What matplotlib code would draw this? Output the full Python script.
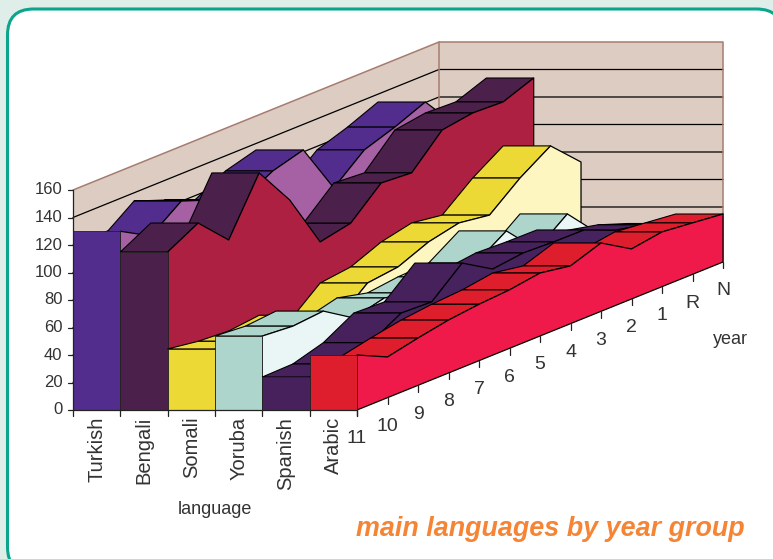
import matplotlib
matplotlib.use('Agg')
import matplotlib.pyplot as plt
from matplotlib.patches import FancyBboxPatch
from matplotlib.transforms import IdentityTransform

plt.rcParams['font.family'] = ['Liberation Sans', 'DejaVu Sans']

# values, front (year 11) to back (N)
years = ['11', '10', '9', '8', '7', '6', '5', '4', '3', '2', '1', 'R', 'N']
languages = ['Turkish', 'Bengali', 'Somali', 'Yoruba', 'Spanish', 'Arabic']
turkish = [130, 117.6, 134, 125.8, 117, 129, 135.3, 98.7, 117.4, 125, 134.3, 108.6, 100]
bengali = [114.9, 127, 105.7, 145.5, 116.9, 77.4, 82, 102.3, 100.7, 122.9, 126.3, 125.4, 133.8]
somali = [44.4, 41, 39.5, 42, 29, 47.5, 50.2, 59.4, 64.3, 61, 79, 93.4, 72.7]
yoruba = [53.8, 52, 54, 40, 45.6, 40.3, 43, 44, 58.5, 36, 52.9, 30, 25]
spanish = [24, 24.5, 31, 43.6, 42.7, 62, 48.7, 51.4, 50.5, 50.2, 41, 36, 28]
arabic = [40, 29.6, 34.4, 38.5, 41, 42.5, 45.8, 42, 49.7, 36.4, 39.8, 37.4, 34.9]
series = [turkish, bengali, somali, yoruba, spanish, arabic]

yticks = [0, 20, 40, 60, 80, 100, 120, 140, 160]

# front/top colour and side colour of each language
front = ['#532D8E', '#4B214C', '#ECD936', '#AED5CB', '#47215B', '#DE1E2C']
side = ['#A561A3', '#AD2042', '#FEF6C0', '#E9F6F5', '#46225E', '#EF1A49']
wall = '#DDCCC2'
walledge = '#A67C70'
textcol = '#333333'

# oblique projection, one year back moves this far in category / value units
dx = 0.6444
dy = 8.97
ndeep = len(years) - 1
zo = [3]


def proj(i, d, v):
    return i + d * dx, v + d * dy


def poly(pts, fc, ec, lw=0.8):
    zo[0] += 1
    ax.fill([p[0] for p in pts], [p[1] for p in pts], fc=fc, ec=ec, lw=lw,
            clip_on=False, zorder=zo[0], joinstyle='round')


def line(pts, col='black', lw=0.9):
    zo[0] += 1
    ax.plot([p[0] for p in pts], [p[1] for p in pts], color=col, lw=lw,
            clip_on=False, zorder=zo[0], solid_capstyle='round')


fig = plt.figure(figsize=(7.73, 5.59), dpi=100)
fig.patch.set_facecolor('#DFEEE8')
fig.add_artist(FancyBboxPatch((7.5, -14), 775, 564, boxstyle='round,pad=0,rounding_size=26',
                              fc='white', ec='#0AA58C', lw=2.2, zorder=-1,
                              transform=IdentityTransform()))

ax = fig.add_axes([73 / 773, (559 - 410) / 559, 284 / 773, 220 / 559])
ax.set_xlim(0, 6)
ax.set_ylim(0, 160)
ax.axis('off')

# walls
n = len(languages)
poly([proj(0, 0, 0), proj(0, 0, 160), proj(0, ndeep, 160), proj(0, ndeep, 0)], wall, 'none')
poly([proj(0, ndeep, 0), proj(0, ndeep, 160), proj(n, ndeep, 160), proj(n, ndeep, 0)], wall, 'none')
for t in yticks[1:-1]:
    line([proj(0, 0, t), proj(0, ndeep, t), proj(n, ndeep, t)], 'black', 0.9)
line([proj(0, 0, 160), proj(0, ndeep, 160), proj(n, ndeep, 160), proj(n, ndeep, 0)], walledge, 1.1)
line([proj(0, ndeep, 160), proj(0, ndeep, 0)], walledge, 1.1)

# ribbons, left one first: tops back to front, then the side over them, then the front
for i, vals in enumerate(series):
    for d in range(ndeep - 1, -1, -1):
        a, b = vals[d], vals[d + 1]
        if b - a + dy > 0:
            poly([proj(i, d, a), proj(i + 1, d, a), proj(i + 1, d + 1, b), proj(i, d + 1, b)],
                 front[i], 'black', 0.8)
    outline = [proj(i + 1, 0, 0)]
    outline += [proj(i + 1, d, vals[d]) for d in range(ndeep + 1)]
    outline += [proj(i + 1, ndeep, 0)]
    poly(outline, side[i], 'black', 0.9)
    poly([(i, 0), (i, vals[0]), (i + 1, vals[0]), (i + 1, 0)], front[i], '#222222', 0.6)

# axes and ticks
line([(0, 0), (0, 160)], '#222222', 0.9)
for t in yticks:
    line([(-0.1, t), (0, t)], '#222222', 0.9)
    ax.text(-0.22, t, str(t), ha='right', va='center', fontsize=12, color=textcol, clip_on=False)
line([(0, 0), (n, 0)], '#222222', 0.9)
for i in range(n + 1):
    line([(i, 0), (i, -4.5)], '#222222', 0.9)
for i, lab in enumerate(languages):
    ax.text(i + 0.5, -5, lab, rotation=90, ha='center', va='top', fontsize=14.5, color=textcol, clip_on=False)
for d, lab in enumerate(years):
    x, y = proj(n, d, 0)
    line([(x, y), (x, y - 4.5)], '#222222', 0.9)
    ax.text(x, y - 21, lab, ha='center', va='center', fontsize=14, color=textcol, clip_on=False)
ax.text(3.0, -72, 'language', ha='center', va='center', fontsize=13, color=textcol, clip_on=False)
ax.text(13.52, 51.6, 'year', ha='left', va='center', fontsize=13, color=textcol, clip_on=False)

fig.text(745 / 773, 1 - 529 / 559, 'main languages by year group', ha='right', va='center',
         fontsize=19.4, fontweight='bold', fontstyle='italic', color='#F58535')

fig.savefig('out.png', dpi=100)
